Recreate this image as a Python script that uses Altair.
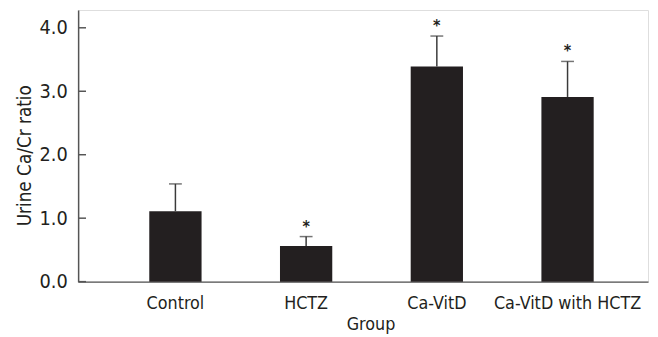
import altair as alt
import pandas as pd

groups = ["Control", "HCTZ", "Ca-VitD", "Ca-VitD with HCTZ"]
means = [1.11, 0.56, 3.39, 2.91]
upper = [1.54, 0.71, 3.87, 3.47]
stars = ["", "*", "*", "*"]
yticks = [0.0, 1.0, 2.0, 3.0, 4.0]

df = pd.DataFrame({"group": groups, "mean": means, "upper": upper, "star": stars})
tdf = pd.DataFrame({"t": yticks})

FONT = "Liberation Sans Narrow, DejaVu Sans Condensed, Liberation Sans, sans-serif"
AX = "#555555"
INK = "#231f20"

xs = alt.Scale(domain=groups, paddingInner=0.6, paddingOuter=0.48, align=0.567)
ys = alt.Scale(domain=[0, 4.28], nice=False, zero=True)

xenc = alt.X("group:N", scale=xs, sort=groups,
             axis=alt.Axis(title="Group", labelAngle=0, ticks=False, labelPadding=13,
                           labelFontSize=18, titleFontSize=18, titlePadding=3,
                           labelColor=INK, titleColor=INK, domainColor=AX, domainWidth=1.5,
                           labelFont=FONT, titleFont=FONT, titleFontWeight="normal",
                           titleX=296, grid=False))
yaxis = alt.Axis(title="Urine Ca/Cr ratio", values=yticks, format=".1f", ticks=False,
                 labelPadding=11, labelFontSize=20, titleFontSize=19, labelColor=INK,
                 titleColor=INK, domainColor=AX, domainWidth=1.5, labelFont=FONT,
                 titleFont=FONT, titleFontWeight="normal", grid=False,
                 titleX=-54, titleY=147, titleAngle=270, titleBaseline="middle",
                 titleAlign="center")

base = alt.Chart(df)
bars = base.mark_bar(color=INK).encode(x=xenc, y=alt.Y("mean:Q", scale=ys, axis=yaxis))
err = base.mark_rule(color="#3a3a3a", strokeWidth=1.5).encode(
    x=alt.X("group:N", scale=xs, sort=groups), y="mean:Q", y2="upper:Q")
caps = base.mark_tick(color="#3a3a3a", thickness=1.5, size=13, orient="horizontal").encode(
    x=alt.X("group:N", scale=xs, sort=groups), y=alt.Y("upper:Q", scale=ys))
txt = base.mark_text(color=INK, fontSize=16, dy=-10, font=FONT, fontWeight="bold").encode(
    x=alt.X("group:N", scale=xs, sort=groups), y=alt.Y("upper:Q", scale=ys), text="star:N")
ticks = alt.Chart(tdf).mark_rule(color=AX, strokeWidth=1.5).encode(
    y=alt.Y("t:Q", scale=ys), x=alt.value(0), x2=alt.value(8))

chart = alt.layer(bars, err, caps, txt, ticks).properties(
    width=577, height=275,
    autosize=alt.AutoSizeParams(type="none"),
    padding={"left": 71, "top": 0, "right": 2, "bottom": 54},
).configure_view(stroke=None).configure(background="white")

chart.save("out.html", embed_options={"renderer": "svg", "actions": False})
